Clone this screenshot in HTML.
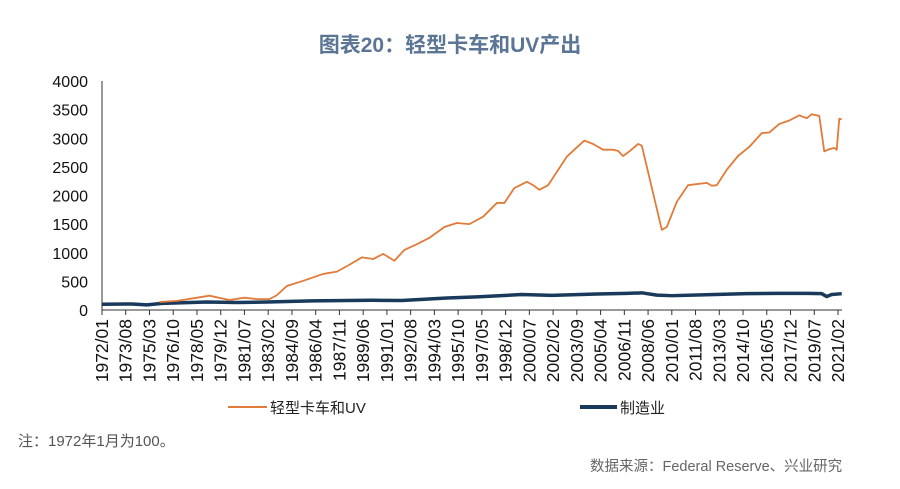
<!DOCTYPE html>
<html><head><meta charset="utf-8"><style>
body{margin:0;background:#fff;width:900px;height:484px;overflow:hidden;font-family:"Liberation Sans","Noto Sans CJK SC",sans-serif}
svg text{font-family:"Liberation Sans","Noto Sans CJK SC",sans-serif}
</style></head><body>
<svg id="c" width="900" height="484">
<text x="450" y="52" text-anchor="middle" font-size="21" font-weight="bold" fill="#5b7595">图表20：轻型卡车和UV产出</text>
<g id="axes"></g><g id="lines"></g>
<g>
<line x1="228" y1="407" x2="267" y2="407" stroke="#e07b39" stroke-width="2"/>
<text x="270" y="413" font-size="15" fill="#222">轻型卡车和UV</text>
<line x1="580" y1="407" x2="617" y2="407" stroke="#1a3a5c" stroke-width="4"/>
<text x="620" y="413" font-size="15" fill="#222">制造业</text>
</g>
<text x="18" y="446" font-size="15" fill="#555">注：1972年1月为100。</text>
<text x="590" y="471" font-size="14.5" fill="#666">数据来源：Federal Reserve、兴业研究</text>
</svg>
<script>
// months since 1972/01
const truckMonths=[46,60,86,102,114,124,134,140,148,161,177,188,198,208,217,225,234,242,252,262,274,284,294,305,316,322,330,340,345,350,357,372,378,386,393,401,409,413,417,422,429,432,448,452,460,469,484,488,492,500,509,518,528,534,542,550,558,564,568,574,578,582,586,588,590,592];
const truckValues=[140,160,250,175,215,190,190,260,420,510,630,670,790,920,890,980,860,1050,1150,1260,1450,1520,1500,1630,1870,1870,2130,2240,2180,2100,2180,2680,2800,2960,2900,2800,2800,2780,2690,2770,2900,2870,1400,1450,1890,2180,2220,2170,2180,2450,2690,2850,3090,3100,3250,3310,3400,3350,3420,3390,2770,2810,2830,2800,3340,3330];
const mfgMonths=[0,24,36,48,84,108,132,168,216,240,276,300,336,360,396,420,432,444,456,480,516,540,564,576,580,584,592];
const mfgValues=[100,105,90,115,140,130,140,160,170,165,210,230,270,255,280,290,300,260,250,265,285,290,290,285,235,270,285];
const yTicks=[0,500,1000,1500,2000,2500,3000,3500,4000];
const xTickMonths=[];for(let m=0;m<=589;m+=19)xTickMonths.push(m);
const x0=102,pxm=(838-102)/589,yb=310,yt=81;
const X=m=>x0+m*pxm, Y=v=>yb-(v/4000)*(yb-yt);
const ns="http://www.w3.org/2000/svg";
const ax=document.getElementById('axes'),ln=document.getElementById('lines');
function mk(t,a,p){const e=document.createElementNS(ns,t);for(const k in a)e.setAttribute(k,a[k]);p.appendChild(e);return e;}
let e=mk('line',{x1:x0,y1:yt,x2:x0,y2:yb,stroke:'#333'},ax);


e=mk('line',{x1:x0,y1:yb,x2:842,y2:yb,stroke:'#333'},ax);


yTicks.forEach(v=>{const t=mk('text',{x:88,y:Y(v)+6,'text-anchor':'end','font-size':'16',fill:'#111'},ax);t.textContent=v;

});
xTickMonths.forEach(m=>{const x=X(m);const tk=mk('line',{x1:x,y1:yb,x2:x,y2:yb+5,stroke:'#333'},ax);


const yr=1972+Math.floor(m/12),mo=m%12+1;
const t=mk('text',{x:0,y:0,'text-anchor':'end','font-size':'17.5',fill:'#111',transform:`translate(${x+6},${yb+9}) rotate(-90)`},ax);
t.textContent=yr+'/'+String(mo).padStart(2,'0');

});
const pm=mk('polyline',{points:mfgMonths.map((m,i)=>X(m)+','+Y(mfgValues[i])).join(' '),fill:'none',stroke:'#1a3a5c','stroke-width':'3.5','stroke-linejoin':'round'},ln);


const pt=mk('polyline',{points:truckMonths.map((m,i)=>X(m)+','+Y(truckValues[i])).join(' '),fill:'none',stroke:'#e07b39','stroke-width':'1.8','stroke-linejoin':'round'},ln);


</script>
</body></html>
